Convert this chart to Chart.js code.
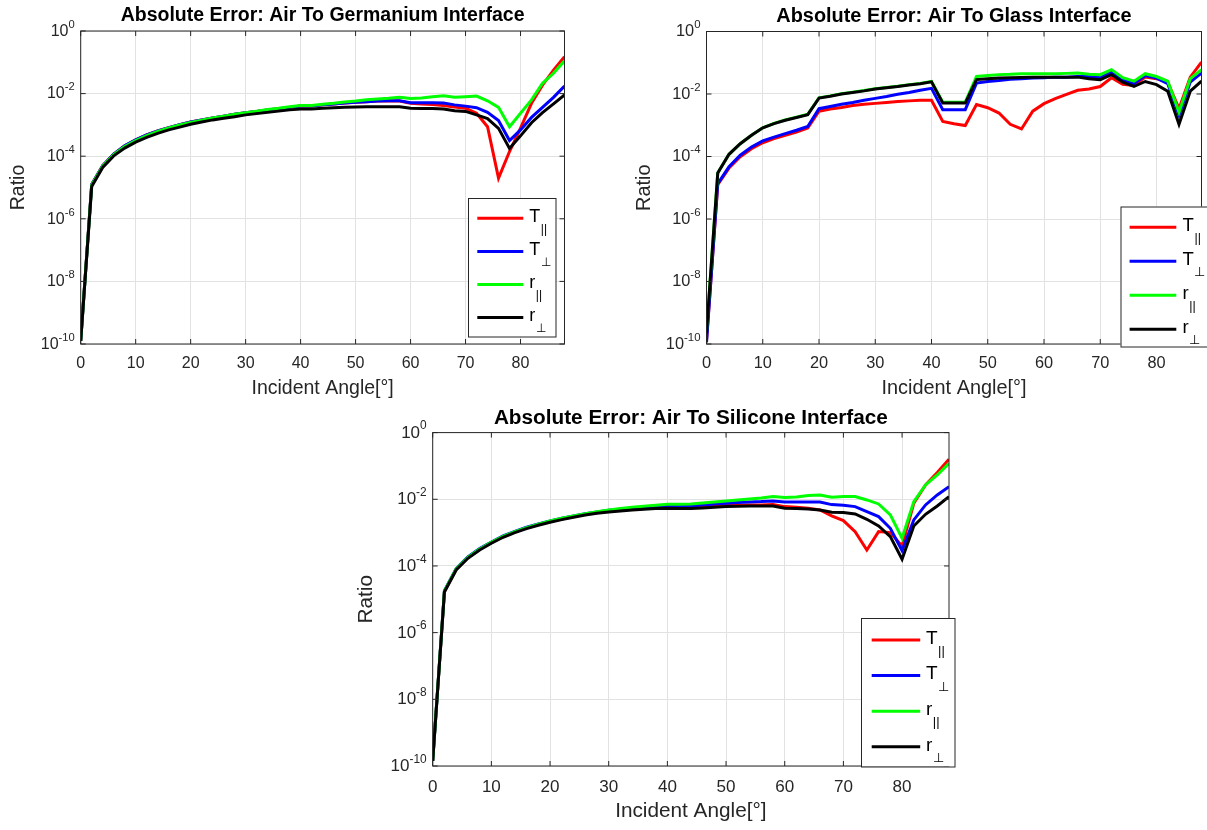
<!DOCTYPE html>
<html>
<head>
<meta charset="utf-8">
<title>Absolute Error</title>
<script src="https://cdn.jsdelivr.net/npm/chart.js"></script>
<style>
    body { margin: 0; background: #fff; width: 1207px; height: 830px; position: relative; overflow: hidden; }
    canvas { position: absolute; }
    #geChart { left: 0; top: 0; }
    #glChart { left: 620px; top: 0; }
    #siChart { left: 340px; top: 400px; }
</style>
</head>
<body>
<canvas id="geChart" width="600" height="400"></canvas>
<canvas id="glChart" width="587" height="400"></canvas>
<canvas id="siChart" width="640" height="430"></canvas>

<script>
// incident angles (deg)
const angles = [0, 2, 4, 6, 8, 10, 12, 14, 16, 18, 20, 22, 24, 26, 28, 30, 32, 34, 36, 38,
    40, 42, 44, 46, 48, 50, 52, 54, 56, 58, 60, 62, 64, 66, 68, 70, 72, 74, 76, 78, 80, 82, 84, 86, 88];
const yTickExponents = [-10, -8, -6, -4, -2, 0];
const legendMain = ['T', 'T', 'r', 'r'];
const legendSub = ['||', '\u22A5', '||', '\u22A5'];
const lineColors = ['#ff0000', '#0000ff', '#00ff00', '#000000'];

// values are log10(ratio)
// Air -> Germanium
const geTpar  = [-9.9, -4.90, -4.30, -3.93, -3.67, -3.48, -3.32, -3.19, -3.09, -2.99, -2.91, -2.84, -2.78, -2.72, -2.66, -2.61, -2.57, -2.52, -2.48, -2.44,
    -2.40, -2.40, -2.36, -2.33, -2.30, -2.28, -2.26, -2.24, -2.23, -2.24, -2.31, -2.33, -2.35, -2.38, -2.43, -2.47, -2.63, -3.06, -4.70, -3.85, -3.10, -2.31, -1.73, -1.25, -0.82];
const geTperp = [-9.9, -4.90, -4.30, -3.93, -3.67, -3.48, -3.32, -3.19, -3.09, -2.99, -2.91, -2.84, -2.78, -2.72, -2.66, -2.61, -2.57, -2.52, -2.48, -2.44,
    -2.40, -2.40, -2.36, -2.33, -2.30, -2.28, -2.26, -2.24, -2.23, -2.23, -2.29, -2.29, -2.29, -2.30, -2.36, -2.40, -2.45, -2.60, -2.86, -3.50, -3.16, -2.76, -2.44, -2.12, -1.76];
const geRpar  = [-9.9, -4.92, -4.32, -3.95, -3.69, -3.50, -3.34, -3.21, -3.10, -3.00, -2.92, -2.85, -2.78, -2.72, -2.66, -2.61, -2.56, -2.51, -2.47, -2.42,
    -2.38, -2.38, -2.34, -2.31, -2.27, -2.24, -2.20, -2.17, -2.15, -2.12, -2.16, -2.14, -2.10, -2.07, -2.12, -2.10, -2.08, -2.23, -2.44, -3.06, -2.63, -2.20, -1.67, -1.35, -0.95];
const geRperp = [-9.9, -4.97, -4.36, -3.99, -3.74, -3.55, -3.40, -3.27, -3.16, -3.07, -2.98, -2.91, -2.84, -2.79, -2.74, -2.68, -2.64, -2.60, -2.56, -2.52,
    -2.49, -2.49, -2.47, -2.45, -2.44, -2.43, -2.42, -2.42, -2.42, -2.42, -2.47, -2.48, -2.48, -2.49, -2.55, -2.57, -2.68, -2.80, -3.11, -3.75, -3.35, -2.93, -2.61, -2.33, -2.04];

// Air -> Glass
const glTpar  = [-9.9, -4.90, -4.37, -4.01, -3.75, -3.56, -3.43, -3.32, -3.22, -3.09, -2.55, -2.48, -2.43, -2.37, -2.33, -2.30, -2.27, -2.24, -2.22, -2.20,
    -2.20, -2.88, -2.95, -3.01, -2.34, -2.44, -2.61, -2.97, -3.12, -2.55, -2.31, -2.15, -2.01, -1.88, -1.84, -1.76, -1.48, -1.69, -1.73, -1.46, -1.51, -1.62, -2.47, -1.46, -0.98];
const glTperp = [-9.95, -4.87, -4.33, -3.96, -3.70, -3.50, -3.38, -3.27, -3.16, -3.04, -2.47, -2.40, -2.33, -2.27, -2.20, -2.14, -2.08, -2.01, -1.95, -1.88,
    -1.82, -2.50, -2.50, -2.50, -1.65, -1.60, -1.57, -1.53, -1.51, -1.49, -1.48, -1.46, -1.46, -1.44, -1.44, -1.48, -1.30, -1.54, -1.67, -1.41, -1.49, -1.67, -2.68, -1.62, -1.33];
const glRpar  = [-9.6, -4.53, -3.93, -3.59, -3.32, -3.08, -2.94, -2.83, -2.74, -2.65, -2.12, -2.06, -1.99, -1.94, -1.89, -1.83, -1.79, -1.75, -1.70, -1.66,
    -1.60, -2.26, -2.26, -2.26, -1.44, -1.41, -1.38, -1.37, -1.35, -1.35, -1.35, -1.35, -1.34, -1.33, -1.37, -1.38, -1.22, -1.48, -1.59, -1.35, -1.44, -1.59, -2.58, -1.51, -1.22];
const glRperp = [-9.65, -4.53, -3.93, -3.59, -3.32, -3.08, -2.95, -2.84, -2.75, -2.66, -2.13, -2.07, -2.00, -1.95, -1.90, -1.84, -1.80, -1.76, -1.71, -1.67,
    -1.61, -2.29, -2.29, -2.29, -1.54, -1.51, -1.49, -1.48, -1.47, -1.46, -1.46, -1.46, -1.46, -1.46, -1.51, -1.54, -1.38, -1.62, -1.76, -1.60, -1.70, -1.91, -2.97, -1.91, -1.59];

// Air -> Silicone
const siTpar  = [-9.85, -4.76, -4.10, -3.75, -3.50, -3.30, -3.12, -2.98, -2.86, -2.76, -2.67, -2.59, -2.52, -2.45, -2.40, -2.35, -2.32, -2.29, -2.26, -2.24,
    -2.23, -2.24, -2.24, -2.22, -2.20, -2.19, -2.18, -2.17, -2.17, -2.16, -2.22, -2.24, -2.27, -2.32, -2.50, -2.64, -2.97, -3.52, -2.97, -3.00, -3.40, -2.12, -1.57, -1.20, -0.80];
const siTperp = [-9.85, -4.74, -4.08, -3.73, -3.48, -3.28, -3.10, -2.96, -2.84, -2.74, -2.65, -2.57, -2.50, -2.43, -2.38, -2.33, -2.30, -2.27, -2.24, -2.22,
    -2.21, -2.21, -2.20, -2.17, -2.14, -2.12, -2.10, -2.08, -2.07, -2.05, -2.08, -2.08, -2.08, -2.08, -2.16, -2.18, -2.22, -2.37, -2.52, -2.87, -3.54, -2.62, -2.17, -1.87, -1.62];
const siRpar  = [-9.85, -4.75, -4.09, -3.74, -3.49, -3.29, -3.11, -2.97, -2.85, -2.75, -2.65, -2.57, -2.50, -2.43, -2.37, -2.32, -2.28, -2.24, -2.21, -2.18,
    -2.15, -2.15, -2.14, -2.11, -2.08, -2.05, -2.02, -1.99, -1.96, -1.92, -1.95, -1.93, -1.89, -1.87, -1.94, -1.92, -1.92, -2.02, -2.14, -2.47, -3.17, -2.07, -1.57, -1.27, -0.92];
const siRperp = [-9.85, -4.78, -4.12, -3.77, -3.52, -3.32, -3.14, -3.00, -2.88, -2.78, -2.69, -2.61, -2.54, -2.47, -2.42, -2.38, -2.35, -2.32, -2.30, -2.28,
    -2.27, -2.28, -2.28, -2.26, -2.24, -2.22, -2.21, -2.20, -2.20, -2.20, -2.27, -2.28, -2.29, -2.32, -2.39, -2.40, -2.44, -2.60, -2.80, -3.12, -3.80, -2.80, -2.45, -2.20, -1.92];

const FONT = "'Liberation Sans', Arial, Helvetica, sans-serif";

// frame with inward ticks, 10^n labels and the legend (MATLAB look)
const axesDecor = {
    id: 'axesDecor',
    afterDraw(chart, args, opts) {
        const ctx = chart.ctx, a = chart.chartArea;
        const xs = chart.scales.x, ys = chart.scales.y;
        ctx.save();
        ctx.strokeStyle = '#262626';
        ctx.lineWidth = 1;
        ctx.beginPath();
        xs.ticks.forEach(t => {
            const px = xs.getPixelForValue(t.value);
            ctx.moveTo(px, a.bottom); ctx.lineTo(px, a.bottom - 5);
            ctx.moveTo(px, a.top); ctx.lineTo(px, a.top + 5);
        });
        ys.ticks.forEach(t => {
            const py = ys.getPixelForValue(t.value);
            ctx.moveTo(a.left, py); ctx.lineTo(a.left + 5, py);
            ctx.moveTo(a.right, py); ctx.lineTo(a.right - 5, py);
        });
        ctx.stroke();
        ctx.strokeRect(a.left, a.top, a.right - a.left, a.bottom - a.top);

        // y tick labels
        const ts = opts.tickSize, es = opts.tickSize * 0.7;
        ctx.fillStyle = '#262626';
        ctx.textAlign = 'left';
        ctx.textBaseline = 'alphabetic';
        ys.ticks.forEach(t => {
            const py = ys.getPixelForValue(t.value);
            const ex = String(Math.round(Math.log10(t.value)));
            ctx.font = ts + 'px ' + FONT;
            const wb = ctx.measureText('10').width;
            ctx.font = es + 'px ' + FONT;
            const we = ctx.measureText(ex).width;
            const x0 = a.left - 6 - we - wb;
            ctx.font = ts + 'px ' + FONT;
            ctx.fillText('10', x0, py + ts * 0.3);
            ctx.font = es + 'px ' + FONT;
            ctx.fillText(ex, x0 + wb, py - ts * 0.2);
        });

        // legend
        const L = opts.legend;
        ctx.fillStyle = '#ffffff';
        ctx.fillRect(L.x, L.y, L.w, L.h);
        ctx.strokeStyle = '#262626';
        ctx.lineWidth = 1;
        ctx.strokeRect(L.x + 0.5, L.y + 0.5, L.w, L.h);
        chart.data.datasets.forEach((ds, i) => {
            const y = L.row0 + i * L.step;
            ctx.strokeStyle = ds.borderColor;
            ctx.lineWidth = 3;
            ctx.beginPath();
            ctx.moveTo(L.x1, y); ctx.lineTo(L.x2, y);
            ctx.stroke();
            ctx.fillStyle = '#000';
            ctx.font = L.font + 'px ' + FONT;
            ctx.fillText(legendMain[i], L.tx, y + L.font * 0.2);
            const w = ctx.measureText(legendMain[i]).width;
            ctx.font = L.sub + 'px ' + FONT;
            ctx.fillText(legendSub[i], L.tx + w + 0.5, y + L.font * 0.8);
        });
        ctx.restore();
    }
};

function buildChart(canvasId, titleText, series, lay) {
    const canvas = document.getElementById(canvasId);
    const H = canvas.height;
    const fs = lay.fontScale;
    const titleSize = 19.5 * fs, labelSize = 19.5 * fs, tickSize = 16 * fs;
    const titleTop = lay.titleY - titleSize * 0.6;
    const titleBottom = lay.area.top - titleTop - titleSize * 1.2;

    return new Chart(canvas.getContext('2d'), {
        type: 'line',
        data: {
            datasets: series.map((s, i) => ({
                label: legendMain[i] + legendSub[i],
                data: angles.map((ang, k) => ({ x: ang, y: Math.pow(10, s[k]) })),
                borderColor: lineColors[i],
                backgroundColor: lineColors[i],
                borderWidth: 3,
                pointRadius: 0,
                tension: 0,
                order: 4 - i
            }))
        },
        options: {
            responsive: false,
            animation: false,
            layout: { padding: { left: 0, top: 0, bottom: 0, right: canvas.width - lay.area.right } },
            plugins: {
                legend: { display: false },
                tooltip: { enabled: false },
                title: {
                    display: true,
                    fullSize: false,
                    text: titleText,
                    color: '#000',
                    font: { family: FONT, size: titleSize, weight: 'bold', lineHeight: 1.2 },
                    padding: { top: titleTop, bottom: titleBottom }
                },
                axesDecor: { tickSize: tickSize, legend: lay.legend }
            },
            scales: {
                x: {
                    type: 'linear',
                    min: 0,
                    max: 88,
                    ticks: {
                        stepSize: 10,
                        includeBounds: false,
                        maxRotation: 0,
                        color: '#262626',
                        font: { family: FONT, size: tickSize, lineHeight: 1.2 },
                        padding: lay.xTickY - lay.area.bottom - tickSize * 0.6
                    },
                    grid: { color: '#e2e2e2', drawTicks: false },
                    border: { display: false },
                    title: {
                        display: true,
                        text: 'Incident Angle[\u00B0]',
                        color: '#262626',
                        font: { family: FONT, size: labelSize, lineHeight: 1.2 },
                        padding: { top: 0, bottom: Math.max(0, H - lay.xTitleY - labelSize * 0.6) }
                    },
                    afterFit: sc => { sc.height = H - lay.area.bottom; }
                },
                y: {
                    type: 'logarithmic',
                    min: 1e-10,
                    max: 1,
                    afterBuildTicks: sc => { sc.ticks = yTickExponents.map(e => ({ value: Math.pow(10, e) })); },
                    ticks: { display: false },
                    grid: { color: '#e2e2e2', drawTicks: false },
                    border: { display: false },
                    title: {
                        display: true,
                        text: 'Ratio',
                        color: '#262626',
                        font: { family: FONT, size: labelSize, lineHeight: 1.2 },
                        padding: { top: lay.yTitleX - labelSize * 0.6, bottom: 0 }
                    },
                    afterFit: sc => { sc.width = lay.area.left; }
                }
            }
        },
        plugins: [axesDecor]
    });
}

// layouts in canvas coordinates
buildChart('geChart', 'Absolute Error: Air To Germanium Interface', [geTpar, geTperp, geRpar, geRperp], {
    fontScale: 1,
    area: { left: 80.7, right: 564.5, top: 31, bottom: 344 },
    titleY: 15.5, xTickY: 363.8, xTitleY: 389, yTitleX: 18.5,
    legend: { x: 468, y: 198, w: 87.5, h: 138.5, x1: 477.3, x2: 523.3, row0: 218.3, step: 33.1, tx: 529.3, font: 18, sub: 12 }
});

buildChart('glChart', 'Absolute Error: Air To Glass Interface', [glTpar, glTperp, glRpar, glRperp], {
    fontScale: 1.02,
    area: { left: 86.5, right: 581.5, top: 31.5, bottom: 344 },
    titleY: 16.5, xTickY: 363.8, xTitleY: 389, yTitleX: 25,
    legend: { x: 500.5, y: 206.5, w: 92, h: 140, x1: 509.6, x2: 556.3, row0: 227.3, step: 34, tx: 562.6, font: 18.5, sub: 12.5 }
});

buildChart('siChart', 'Absolute Error: Air To Silicone Interface', [siTpar, siTperp, siRpar, siRperp], {
    fontScale: 1.065,
    area: { left: 92.7, right: 609, top: 32.6, bottom: 366 },
    titleY: 18.5, xTickY: 387.5, xTitleY: 411, yTitleX: 26,
    legend: { x: 521, y: 218, w: 93.5, h: 148.5, x1: 531.7, x2: 580.2, row0: 240, step: 35.6, tx: 586, font: 19, sub: 13 }
});
</script>
</body>
</html>
